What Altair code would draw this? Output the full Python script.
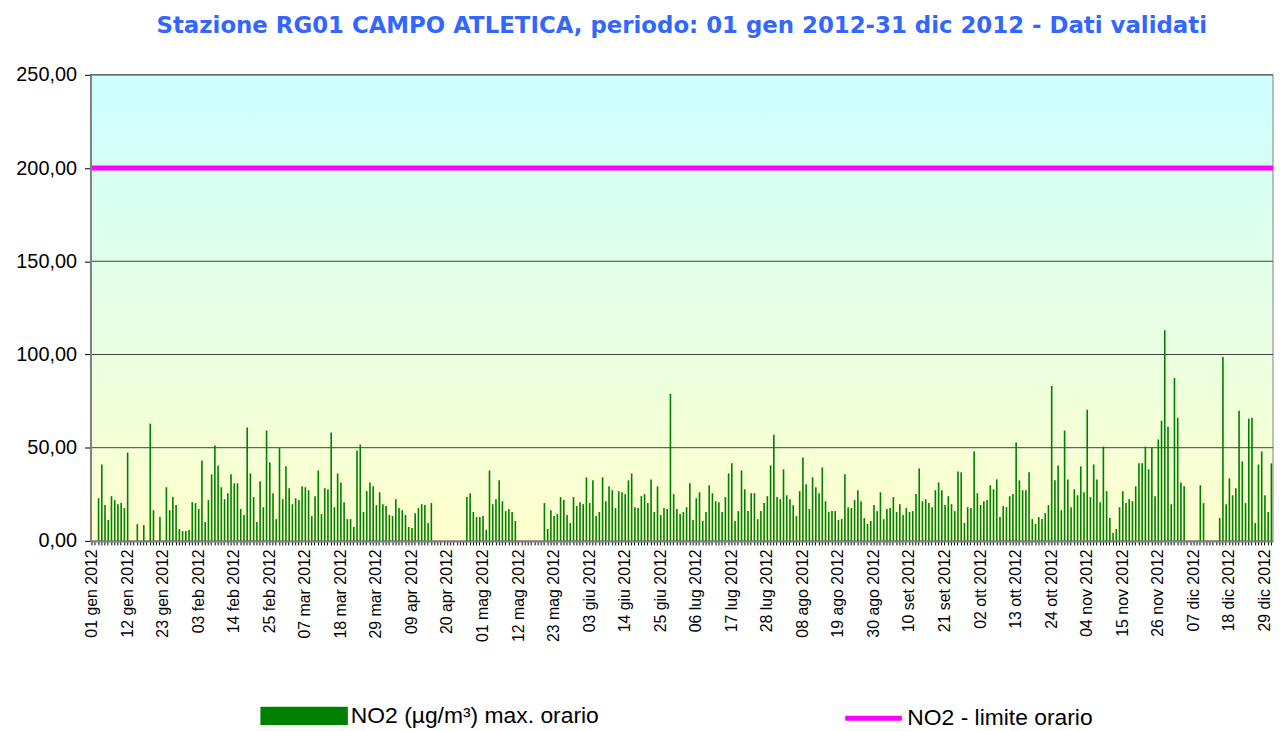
import altair as alt
import pandas as pd

# --- dati giornalieri NO2 max orario (µg/m³), 2012 ---
gen = [0, 0, 22.9, 41, 19.2, 11.2, 24, 21.9, 19.7, 20.3, 17.6, 47.4, 0, 0, 9, 0, 8.5, 0, 62.9, 16.5,
       0, 12.8, 0, 28.8, 16.5, 23.5, 19.2, 6.4, 5.3, 5.3, 5.9]
feb = [20.8, 20.3, 17.1, 43.2, 10.1, 21.9, 35.7, 51.2, 40.5, 28.8, 22.4, 25.6, 35.7, 30.9, 30.9, 17.1,
       13.9, 60.8, 36.2, 23.5, 10.1, 32, 18.1, 59.2, 42.1, 25.6, 11.7, 49.8, 22.4]
mar = [40, 28.3, 19.7, 22.9, 21.9, 29.3, 28.8, 27.2, 13.3, 24, 37.8, 14.4, 28.3, 27.7, 58.1, 18.1,
       36.2, 31.4, 20.8, 11.7, 11.7, 7.5, 48.5, 51.7, 15.5, 26.7, 31.4, 29.3, 19.2, 26.1, 19.7]
apr = [18.7, 13.9, 13.3, 22.4, 17.6, 16.5, 13.9, 7.5, 6.9, 14.9, 17.6, 19.7, 19.2, 9.6, 20.3,
       0, 0, 0, 0, 0, 0, 0, 0, 0, 0, 23.5, 25.6, 15.5, 12.8, 12.8]
mag = [13.3, 5.9, 37.8, 19.7, 22.4, 32.5, 21.3, 16, 17.1, 15.5, 10.7, 0, 0, 0, 0, 0, 0, 0, 0,
       20.3, 6.4, 16.5, 13.3, 14.4, 23.5, 21.9, 13.9, 9.6, 23.5, 18.7, 20.8]
giu = [19.7, 34.1, 20.3, 32.5, 13.3, 15.5, 34.1, 21.3, 29.3, 27.2, 17.6, 26.7, 26.1, 25.1, 32.5,
       36.2, 18.1, 17.6, 24, 25.1, 20.3, 33, 15.5, 29.3, 13.9, 17.6, 17.1, 78.9, 25.1, 17.1]
lug = [14.4, 15.5, 18.1, 30.9, 11.2, 22.9, 26.1, 10.7, 15.5, 29.9, 25.6, 21.3, 20.8, 15.5, 23.5,
       36.2, 41.6, 10.7, 16, 37.8, 27.7, 16, 25.6, 25.6, 11.7, 16, 20.3, 24, 40.5, 57, 23.5]
ago = [22.4, 38.4, 24.5, 22.4, 19.2, 13.3, 26.7, 44.8, 30.4, 17.1, 34.1, 28.8, 25.6, 39.4, 21.3,
       15.5, 16, 16, 11.2, 11.7, 35.7, 18.1, 17.6, 21.9, 27.2, 21.3, 12.3, 9.1, 10.7, 19.2, 16]
set_ = [26.1, 11.7, 17.1, 17.6, 23.5, 15.5, 19.7, 13.9, 17.6, 15.5, 16, 25.1, 38.9, 21.3, 22.4,
        20.3, 18.1, 27.2, 31.4, 27.2, 19.2, 24, 19.7, 16, 37.3, 36.8, 9.6, 18.1, 17.6, 48]
ott = [25.6, 19.2, 21.3, 21.9, 29.9, 27.7, 33, 12.8, 18.7, 18.1, 24, 25.1, 52.8, 32.5, 27.2, 27.2,
       36.8, 11.7, 9.1, 12.8, 11.7, 14.9, 19.2, 83.2, 32.5, 40.5, 16.5, 59.2, 33, 18.1, 27.7]
nov = [24.5, 40, 26.1, 70.4, 23.5, 41, 33, 20.8, 50.6, 26.7, 12.3, 4.3, 6.4, 18.1, 26.7, 20.3,
       22.4, 21.3, 29.3, 41.6, 41.6, 50.6, 38.4, 50.1, 24, 54.4, 64.5, 113, 61.3, 19.7]
dic = [87.4, 66.1, 31.4, 29.3, 0, 0, 0, 0, 29.9, 20.3, 0, 0, 0, 0, 12.3, 98.6, 19.7, 33.6, 24.5,
       28.3, 69.8, 42.6, 20.3, 65.6, 66.1, 9.6, 41, 48, 24.5, 15.5, 41.6]

mesi = ["gen", "feb", "mar", "apr", "mag", "giu", "lug", "ago", "set", "ott", "nov", "dic"]
limite = [200]
griglia = [50, 100, 150, 200, 250]
tick_y = [0, 50, 100, 150, 200, 250]

serie_barre = "NO2 (µg/m³) max. orario"
serie_limite = "NO2 - limite orario"
titolo = "Stazione RG01 CAMPO ATLETICA, periodo: 01 gen 2012-31 dic 2012 - Dati validati"

valori = gen + feb + mar + apr + mag + giu + lug + ago + set_ + ott + nov + dic
giorni = list(range(len(valori)))

df = pd.DataFrame({"giorno": giorni, "no2": valori, "serie": serie_barre})
df_lim = pd.DataFrame({"limite": limite, "serie": serie_limite})
df_grid = pd.DataFrame({"g": griglia})
df_bg = pd.DataFrame({"a": [0]})

W, H = 1190, 469
FONT = "Liberation Sans"

mesi_js = "[" + ",".join("'%s'" % m for m in mesi) + "]"
label_x = ("datum.value % 11 == 0 ? timeFormat(datetime(2012, 0, 1 + datum.value), '%d') + ' ' + "
           + mesi_js + "[month(datetime(2012, 0, 1 + datum.value))] + ' 2012' : ''")

sfumatura = alt.Gradient(
    gradient="linear",
    stops=[alt.GradientStop(color="#ccffff", offset=0),
           alt.GradientStop(color="#ffffcc", offset=1)],
    x1=0, x2=0, y1=0, y2=1,
)

sfondo = alt.Chart(df_bg).mark_rect(color=sfumatura, stroke="#808080", strokeWidth=1).encode(
    x=alt.value(0), x2=alt.value(W), y=alt.value(0), y2=alt.value(H)
)

yscale = alt.Scale(domain=[0, 250], nice=False, zero=True)

linee_griglia = alt.Chart(df_grid).mark_rule(color="#404040", strokeWidth=1).encode(
    y=alt.Y("g:Q", scale=yscale)
)

SW1 = 88   # larghezza simbolo barre in legenda
SW2 = 57   # larghezza simbolo linea in legenda
LEG_CY = 645  # centro verticale della legenda (coordinate della vista)

barre = alt.Chart(df).mark_bar().encode(
    x=alt.X(
        "giorno:O",
        scale=alt.Scale(domain=giorni, paddingInner=0.5, paddingOuter=0.25),
        axis=alt.Axis(
            title=None, labelExpr=label_x, labelAngle=270, labelAlign="right",
            labelBaseline="middle", labelFont=FONT, labelFontSize=16, labelColor="black",
            labelPadding=4, labelOverlap=False, labelFlush=False, tickSize=4,
            tickColor="black", tickWidth=1, domainColor="#808080", domainWidth=2, zindex=1,
        ),
    ),
    y=alt.Y(
        "no2:Q",
        scale=yscale,
        axis=alt.Axis(
            title=None, values=tick_y, grid=False,
            labelExpr="replace(format(datum.value, '.2f'), '.', ',')",
            labelFont=FONT, labelFontSize=20, labelColor="black", labelPadding=8,
            tickSize=6, tickColor="black", domainColor="#808080", domainWidth=2, zindex=1,
        ),
    ),
    color=alt.Color(
        "serie:N",
        scale=alt.Scale(domain=[serie_barre], range=["#008000"]),
        legend=alt.Legend(
            title=None, orient="none", legendX=171, legendY=LEG_CY - SW1 / 2, padding=0,
            symbolType="M-1,-0.21L1,-0.21L1,0.21L-1,0.21Z", symbolSize=SW1 * SW1,
            symbolStrokeWidth=0, labelFont=FONT, labelFontSize=23, labelColor="black",
            labelOffset=3, labelLimit=600,
        ),
    ),
)

linea = alt.Chart(df_lim).mark_rule(strokeWidth=5).encode(
    y=alt.Y("limite:Q", scale=yscale),
    stroke=alt.Stroke(
        "serie:N",
        scale=alt.Scale(domain=[serie_limite], range=["#ff00ff"]),
        legend=alt.Legend(
            title=None, orient="none", legendX=757, legendY=LEG_CY - SW2 / 2, padding=0,
            symbolType="M-1,0L1,0", symbolSize=SW2 * SW2, symbolStrokeWidth=5,
            labelFont=FONT, labelFontSize=23, labelColor="black", labelOffset=3,
            labelLimit=600,
        ),
    ),
)

chart = alt.layer(sfondo, linee_griglia, barre, linea).properties(
    width=W,
    height=H,
    title=alt.TitleParams(
        text=titolo, font="DejaVu Sans", fontSize=23, fontWeight="bold",
        color="#3366ff", anchor="middle", frame="group", offset=27,
    ),
    autosize=alt.AutoSizeParams(type="none"),
    padding={"left": 83, "top": 65, "right": 1, "bottom": 188},
    background="white",
).configure_view(stroke=None)

chart.save("out.html", embed_options={"renderer": "svg", "actions": False})
